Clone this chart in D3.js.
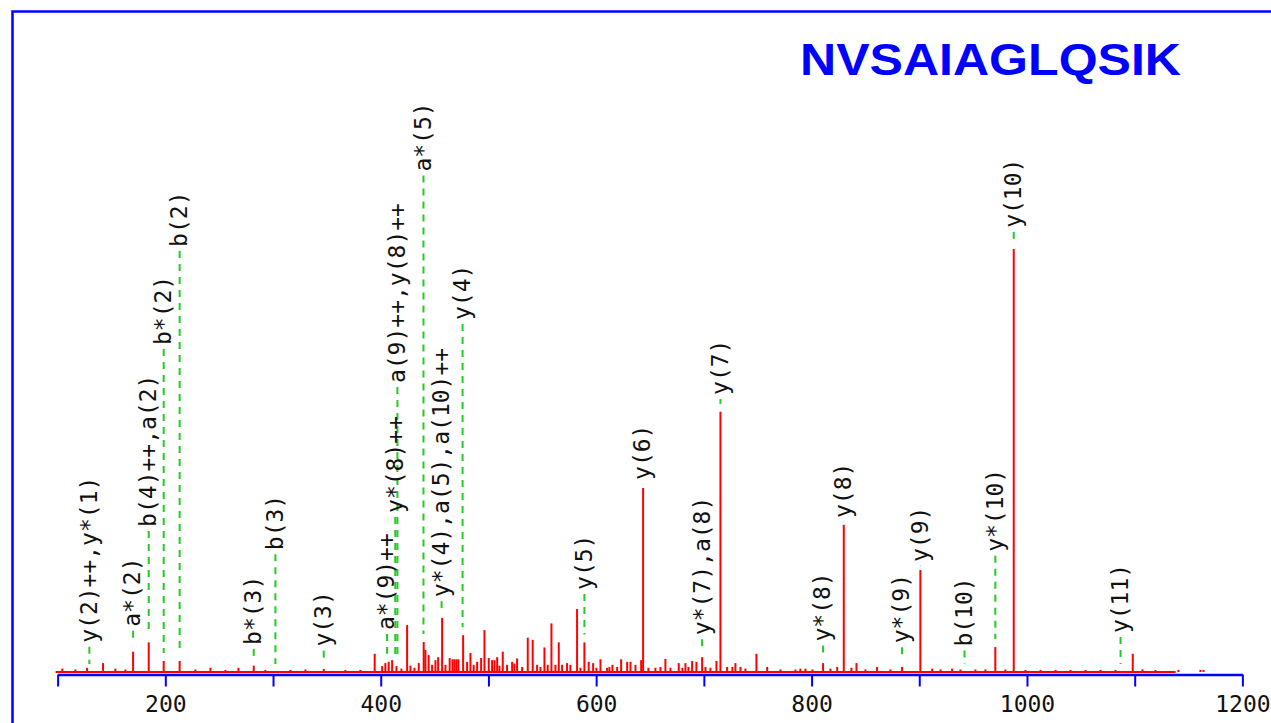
<!DOCTYPE html>
<html>
<head>
<meta charset="utf-8">
<script src="https://cdn.jsdelivr.net/npm/d3@7"></script>
<style>
  html, body { margin: 0; padding: 0; background: #fff; }
  svg { display: block; }
</style>
</head>
<body>
<svg id="chart" width="1271" height="723"></svg>
<script>
// Peptide sequence shown as the title
const peptide = "NVSAIAGLQSIK";

// Centroided MS/MS peaks: m/z and relative intensity (% of base peak)
const peakMz = [104.4, 116.5, 127.4, 142.2, 153.6, 162.9, 170.1, 184.6, 198.5, 213.3,
  227.9, 241.9, 255.8, 267.9, 282.1, 292.9, 316.1, 330.1, 347.1, 367.2,
  381.1, 394.4, 401.3, 404.3, 407.4, 410.6, 414.6, 419.2, 424.5, 427.6,
  431.3, 435.3, 439.9, 441.5, 444.5, 447.7, 450.8, 453.3, 457.0, 460.1,
  464.0, 466.6, 468.4, 470.3, 472.1, 476.5, 480.2, 483.3, 486.3, 489.5,
  493.2, 496.3, 500.3, 503.4, 505.6, 508.1, 510.2, 513.3, 517.3, 522.0,
  524.1, 526.6, 531.3, 536.5, 541.1, 545.2, 548.3, 552.0, 555.0, 558.5,
  562.2, 565.3, 568.4, 573.0, 576.1, 582.3, 585.4, 589.1, 593.1, 597.2,
  600.3, 604.0, 610.2, 612.3, 615.1, 619.5, 623.2, 628.8, 631.9, 636.5,
  641.8, 643.6, 648.5, 655.0, 659.7, 664.3, 669.0, 676.7, 680.1, 682.9,
  685.7, 689.1, 693.1, 698.4, 701.5, 706.1, 711.7, 715.4, 721.6, 726.5,
  729.3, 734.0, 738.6, 748.8, 758.8, 771.1, 785.0, 789.6, 794.3, 800.8,
  810.7, 817.5, 823.8, 829.9, 837.0, 841.7, 850.0, 860.8, 873.2, 884.0,
  901.0, 912.0, 919.7, 930.5, 938.2, 952.1, 961.4, 970.6, 979.9, 987.7,
  998.6, 1012.6, 1026.5, 1040.4, 1054.3, 1068.2, 1082.2, 1098.2, 1107.2, 1119.3,
  1140.6, 1161.0, 1163.9];
const peakInt = [0.8, 0.6, 1.0, 2.1, 0.8, 0.6, 4.8, 7.0, 2.6, 2.6,
  0.6, 1.0, 0.5, 1.0, 1.5, 0.5, 0.5, 0.6, 0.7, 0.5,
  0.5, 4.3, 1.4, 2.1, 2.4, 2.8, 1.4, 0.8, 11.1, 1.5,
  1.0, 2.1, 7.1, 5.2, 4.0, 1.7, 2.8, 3.5, 12.8, 1.7,
  3.3, 3.0, 3.0, 3.0, 3.0, 8.7, 2.4, 4.5, 1.7, 2.4,
  3.3, 9.9, 3.3, 2.8, 2.8, 3.5, 1.5, 4.8, 1.7, 2.4,
  2.0, 3.2, 1.2, 8.1, 7.6, 1.7, 1.2, 5.8, 1.7, 11.5,
  1.7, 7.0, 1.7, 2.1, 1.7, 14.9, 1.0, 7.0, 2.4, 2.1,
  1.0, 3.0, 1.0, 1.2, 1.7, 1.2, 3.0, 2.4, 2.4, 1.7,
  2.8, 43.5, 1.0, 1.0, 1.2, 3.1, 1.0, 2.1, 1.0, 2.1,
  1.2, 2.6, 2.4, 3.5, 1.2, 1.0, 2.6, 61.5, 1.2, 1.2,
  2.1, 1.2, 0.8, 4.3, 1.2, 0.6, 0.6, 0.8, 0.8, 0.6,
  2.1, 0.8, 1.2, 34.8, 1.0, 2.1, 0.6, 1.2, 0.6, 1.2,
  24.1, 0.8, 0.6, 0.8, 0.6, 0.6, 0.6, 5.9, 0.6, 100,
  0.5, 0.5, 0.5, 0.5, 0.5, 0.5, 0.5, 4.3, 0.6, 0.5,
  0.5, 0.5, 0.5];

// Continuous noise floor of the spectrum (m/z from, to)
const noiseFloor = [100, 1138];

// Fragment ion annotations: label, m/z, and intensity level where the label starts
const ionLabels = ["y(2)++,y*(1)", "a*(2)", "b(4)++,a(2)", "b*(2)", "b(2)",
  "b*(3)", "b(3)", "y(3)", "a*(9)++", "y*(8)++", "a(9)++,y(8)++", "a*(5)",
  "y*(4),a(5),a(10)++", "y(4)", "y(5)", "y(6)", "y*(7),a(8)", "y(7)",
  "y*(8)", "y(8)", "y*(9)", "y(9)", "b(10)", "y*(10)", "y(10)", "y(11)"];
const ionMz = [129.5, 170.1, 184.6, 198.5, 213.3,
  282.1, 302.2, 347.1, 405.9, 413.5, 415.5, 439.7,
  456.5, 476.0, 589.1, 643.6, 698.4, 715.4,
  810.7, 829.9, 884.0, 901.0, 942.0, 970.6, 987.7, 1086.9];
const ionLabelLevel = [6.9, 10.7, 34.3, 77.3, 100.5,
  6.4, 28.8, 6.0, 9.9, 37.6, 68.3, 118.3,
  17.7, 83.2, 19.4, 45.4, 8.7, 65.5,
  7.2, 36.4, 6.8, 26.0, 6.0, 28.4, 105.0, 9.2];

// m/z axis ticks; only every other one carries a number
const axisTicks = [100, 200, 300, 400, 500, 600, 700, 800, 900, 1000, 1100, 1200];
const axisTickLabels = [200, 400, 600, 800, 1000, 1200];

const svg = d3.select("#chart");
const BLUE = "#0000ff", RED = "#ff0000", GREEN = "#22cc22";
const labelFont = "'DejaVu Sans Mono', 'Liberation Mono', monospace";

const x = d3.scaleLinear().domain([100, 1200]).range([57.6, 1242.4]);
const y = d3.scaleLinear().domain([0, 100]).range([672, 249]);

// outer frame
svg.append("rect")
  .attr("x", 12.5).attr("y", 11.5)
  .attr("width", 1300).attr("height", 800)
  .attr("fill", "none").attr("stroke", BLUE).attr("stroke-width", 2.5);

// title
svg.append("text")
  .attr("x", 800).attr("y", 75)
  .attr("textLength", 381).attr("lengthAdjust", "spacingAndGlyphs")
  .attr("fill", BLUE)
  .style("font-family", "'Liberation Sans', Arial, sans-serif")
  .style("font-weight", "bold")
  .style("font-size", "44px")
  .text(peptide);

// spectrum
const peaks = peakMz.map((m, i) => ({ mz: m, int: peakInt[i] }));

svg.append("line")
  .attr("x1", x(noiseFloor[0]) - 2).attr("x2", x(noiseFloor[1]))
  .attr("y1", y(0)).attr("y2", y(0))
  .attr("stroke", RED).attr("stroke-width", 2);

svg.append("g").selectAll("line").data(peaks).join("line")
  .attr("x1", d => x(d.mz)).attr("x2", d => x(d.mz))
  .attr("y1", y(0)).attr("y2", d => y(d.int))
  .attr("stroke", RED).attr("stroke-width", 2);

// annotations
const ions = ionLabels.map((t, i) => {
  const near = peaks.filter(p => Math.abs(p.mz - ionMz[i]) <= 1.6);
  return { text: t, mz: ionMz[i], level: ionLabelLevel[i],
           top: near.length ? d3.max(near, p => p.int) : 0 };
});

svg.append("g").selectAll("line").data(ions).join("line")
  .attr("x1", d => x(d.mz)).attr("x2", d => x(d.mz))
  .attr("y1", d => y(d.level) + 4)
  .attr("y2", d => Math.max(y(d.level) + 4, y(d.top) - 8))
  .attr("stroke", GREEN).attr("stroke-width", 2)
  .attr("stroke-dasharray", "7,6");

svg.append("g").selectAll("text").data(ions).join("text")
  .attr("transform", d => `translate(${x(d.mz)},${y(d.level)}) rotate(-90)`)
  .attr("dy", "0.32em")
  .attr("fill", "#111")
  .style("font-family", labelFont)
  .style("font-size", "23px")
  .text(d => d.text);

// m/z axis
const axis = d3.axisBottom(x)
  .tickValues(axisTicks)
  .tickSize(12).tickSizeOuter(0).tickPadding(9)
  .tickFormat(d => axisTickLabels.includes(d) ? d : "");

const gAxis = svg.append("g")
  .attr("transform", "translate(0,674.5)")
  .call(axis)
  .attr("font-family", labelFont)
  .attr("font-size", 23);
gAxis.select(".domain").attr("stroke", BLUE).attr("stroke-width", 2.5);
gAxis.selectAll(".tick line").attr("stroke", BLUE).attr("stroke-width", 2);
gAxis.selectAll(".tick text").attr("fill", "#111");
</script>
</body>
</html>
